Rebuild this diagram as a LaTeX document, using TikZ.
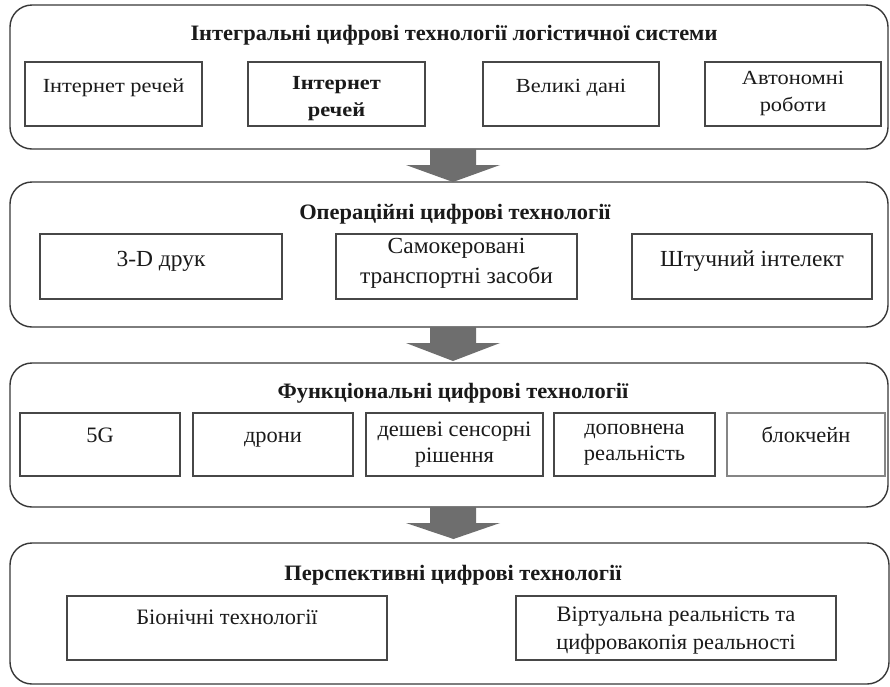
\documentclass[tikz,border=0pt]{standalone}
\usepackage{fontspec}
\setmainfont[FakeStretch=1.12]{Liberation Serif}
\newfontfamily\tallfont[FakeStretch=1.02]{Liberation Serif}
\usetikzlibrary{calc}
\definecolor{panelline}{HTML}{383838}
\definecolor{boxline}{HTML}{474747}
\definecolor{lightline}{HTML}{858585}
\definecolor{arrowgray}{HTML}{6E6E6E}
\definecolor{txt}{HTML}{1A1A1A}
\tikzset{
  panel/.style={draw=panelline, line width=1.4pt, rounded corners=22pt, rectangle, inner sep=0pt, outer sep=0pt},
  cell/.style={draw=boxline, line width=1.8pt, rectangle, inner sep=0pt, outer sep=0pt},
  lbl/.style={text=txt, font=\fontsize{20}{27}\selectfont, align=center, inner sep=0pt},
  lbltwo/.style={text=txt, font=\tallfont\fontsize{23}{30}\selectfont, align=center, inner sep=0pt},
  lblthree/.style={text=txt, font=\tallfont\fontsize{22}{26}\selectfont, align=center, inner sep=0pt},
  lblfour/.style={text=txt, font=\tallfont\fontsize{22}{28}\selectfont, align=center, inner sep=0pt},
  ttl/.style={text=txt, font=\tallfont\fontsize{22}{28}\selectfont\bfseries, align=center, inner sep=0pt, anchor=base},
  blockarrow/.style={fill=arrowgray},
}
\begin{document}
\begin{tikzpicture}[x=1pt, y=-1pt]
\useasboundingbox (0,0) rectangle (890,686);
\fill[white] (0,0) rectangle (890,686);

% panels
\node[panel, minimum width=878pt, minimum height=144pt] (p1) at (449,77) {};
\node[panel, minimum width=878pt, minimum height=145pt] (p2) at (449,254.5) {};
\node[panel, minimum width=878pt, minimum height=144pt] (p3) at (449,435) {};
\node[panel, minimum width=879pt, minimum height=141pt] (p4) at (449.5,613.5) {};

% titles
\node[ttl] (h1) at (454,40.5) {Інтегральні цифрові технології логістичної системи};
\node[ttl] (h2) at (455,219) {Операційні цифрові технології};
\node[ttl] (h3) at (453,398) {Функціональні цифрові технології};
\node[ttl] (h4) at (453,580) {Перспективні цифрові технології};

% panel 1 boxes
\node[cell, minimum width=177pt, minimum height=64pt] (b11) at (113.5,94) {};
\node[cell, minimum width=177pt, minimum height=64pt] (b12) at (336.5,94) {};
\node[cell, minimum width=176pt, minimum height=64pt] (b13) at (571,94) {};
\node[cell, minimum width=176pt, minimum height=64pt] (b14) at (793,94) {};
\node[lbl, anchor=base] (t11) at (113.5,92) {Інтернет речей};
\node[lbl, font=\fontsize{20}{27}\selectfont\bfseries] (t12) at (336.5,98.5) {Інтернет\\речей};
\node[lbl, anchor=base] (t13) at (571,92) {Великі дані};
\node[lbl] (t14) at (793,93.5) {Автономні\\роботи};

% panel 2 boxes
\node[cell, minimum width=242pt, minimum height=65pt] (b21) at (161,266.5) {};
\node[cell, minimum width=241pt, minimum height=65pt] (b22) at (456.5,266.5) {};
\node[cell, minimum width=240pt, minimum height=65pt] (b23) at (752,266.5) {};
\node[lbltwo, anchor=base] (t21) at (161,266.5) {3-D друк};
\node[lbltwo] (t22) at (456.5,263) {Самокеровані\\транспортні засоби};
\node[lbltwo, anchor=base] (t23) at (752,266.5) {Штучний інтелект};

% panel 3 boxes
\node[cell, minimum width=160pt, minimum height=63pt] (b31) at (100,444.5) {};
\node[cell, minimum width=160pt, minimum height=63pt] (b32) at (273,444.5) {};
\node[cell, minimum width=177pt, minimum height=63pt] (b33) at (454.5,444.5) {};
\node[cell, minimum width=161pt, minimum height=63pt] (b34) at (634.5,444.5) {};
\node[cell, draw=lightline, minimum width=158pt, minimum height=63pt] (b35) at (806,444.5) {};
\node[lblthree, anchor=base] (t31) at (100,442) {5G};
\node[lblthree, anchor=base] (t32) at (273,442) {дрони};
\node[lblthree] (t33) at (454.5,445) {дешеві сенсорні\\рішення};
\node[lblthree] (t34) at (634.5,445) {доповнена\\реальність};
\node[lblthree, anchor=base] (t35) at (806,442) {блокчейн};

% panel 4 boxes
\node[cell, minimum width=320pt, minimum height=64pt] (b41) at (227,628) {};
\node[cell, minimum width=320pt, minimum height=64pt] (b42) at (676,628) {};
\node[lblfour, anchor=base] (t41) at (227,624) {Біонічні технології};
\node[lblfour] (t42) at (676,631) {Віртуальна реальність та\\цифровакопія реальності};

% block arrows between panels
\fill[blockarrow] ($(p1.south)+(-19,0)$) -- ++(46,0) -- ++(0,16) -- ++(24,0)
  -- ($(p2.north)+(4,0)$) -- ($(p1.south)+(-43,16)$) -- ++(24,0) -- cycle;
\fill[blockarrow] ($(p2.south)+(-19,0)$) -- ++(46,0) -- ++(0,16) -- ++(24,0)
  -- ($(p3.north)+(4,-2)$) -- ($(p2.south)+(-43,16)$) -- ++(24,0) -- cycle;
\fill[blockarrow] ($(p3.south)+(-19,0)$) -- ++(46,0) -- ++(0,16) -- ++(24,0)
  -- ($(p4.north)+(4,-4)$) -- ($(p3.south)+(-43,16)$) -- ++(24,0) -- cycle;
\end{tikzpicture}
\end{document}
